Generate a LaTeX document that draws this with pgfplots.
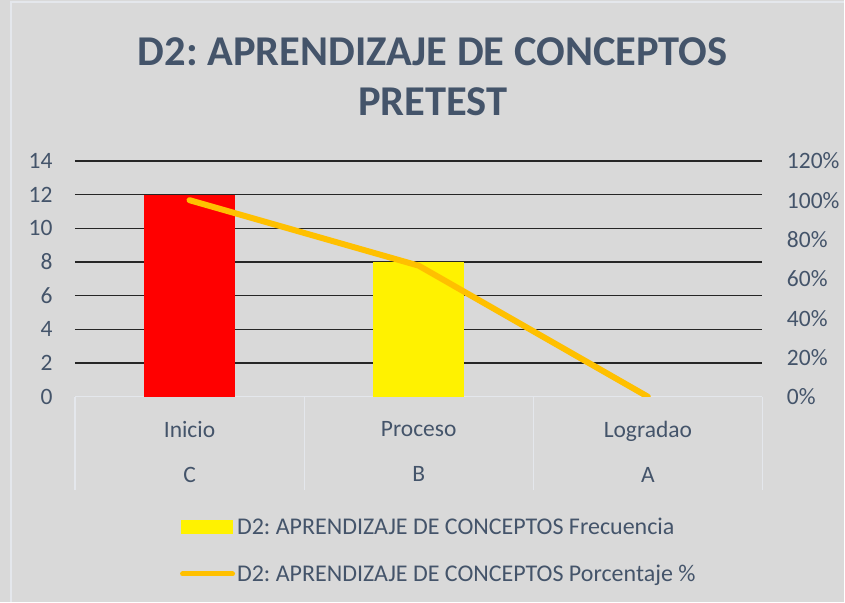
\documentclass[border=0pt]{standalone}
\usepackage{pgfplots}
\pgfplotsset{compat=1.18}
\usepackage{fontspec}
\setmainfont{Carlito}
\frenchspacing
\definecolor{txt}{HTML}{44546A}
\definecolor{bg}{HTML}{D9D9D9}
\definecolor{sep}{HTML}{E4E7EC}
\definecolor{lineor}{HTML}{FFC000}
\definecolor{grd}{HTML}{262626}
\begin{document}
\begin{tikzpicture}[x=1pt,y=1pt]
\fill[bg] (0,0) rectangle (845,602);
\draw[sep, line width=1.2pt] (11,0) -- (11,600) -- (845,600);
\node[txt, font=\fontsize{42.5}{50}\selectfont\bfseries] at (433,550) {D2: APRENDIZAJE DE CONCEPTOS};
\node[txt, font=\fontsize{42.5}{50}\selectfont\bfseries] at (433,500) {PRETEST};
\begin{axis}[
  at={(75pt,205pt)}, anchor=south west,
  scale only axis, width=688pt, height=236pt,
  xmin=-0.5, xmax=2.5, ymin=0, ymax=14,
  ytick={0,2,...,14},
  ymajorgrids, grid style={grd, line width=1.3pt},
  axis y line*=left, y axis line style={draw=none},
  axis x line*=bottom, x axis line style={sep, line width=1.2pt, -},
  xtick={-0.5,0.5,1.5,2.5}, xticklabels={},
  xtick style={sep, line width=1.2pt},
  major tick length=0pt,
  x tick style={/pgfplots/major tick length=93pt},
  tick align=outside,
  ytick style={draw=none},
  extra x ticks={0,1,2},
  extra x tick labels={{Inicio\\[17pt]C},{Proceso\\[17pt]B},{Logradao\\[17pt]A}},
  extra x tick style={major tick length=0pt, xtick style={draw=none}, grid=none,
     xticklabel style={align=center, yshift=-21pt}},
  xmajorgrids=false,
  yticklabel style={font=\fontsize{23.5}{28}\selectfont, txt, anchor=east, xshift=-19pt},
  xticklabel style={font=\fontsize{23.5}{28}\selectfont, txt, anchor=north},
  /pgf/number format/assume math mode=true,
  legend style={at={(0.1526,-0.505)}, anchor=north west, draw=none, fill=none,
     font=\fontsize{24}{28}\selectfont, text=txt, row sep=25pt, inner sep=0pt},
  legend cell align=left,
]
\addplot[ybar, bar width=91pt, bar shift=0pt, fill=red, draw=none, forget plot] coordinates {(0,12)};
\addplot[ybar, bar width=91pt, bar shift=0pt, fill=yellow, draw=none,
  legend image code/.code={\fill[yellow] (0pt,-7pt) rectangle (52pt,7pt);}] coordinates {(1,8)};
\addlegendentry{D2: APRENDIZAJE DE CONCEPTOS Frecuencia}
\addlegendimage{legend image code/.code={\draw[lineor, line width=5pt, line cap=round] (2pt,0pt) -- (52pt,0pt);}}
\addlegendentry{D2: APRENDIZAJE DE CONCEPTOS Porcentaje \%}
\end{axis}
\begin{axis}[
  at={(75pt,205pt)}, anchor=south west,
  scale only axis, width=688pt, height=236pt,
  xmin=-0.5, xmax=2.5, ymin=0, ymax=1.2,
  ytick={0,0.2,...,1.2},
  axis y line*=right, axis x line=none, y axis line style={draw=none},
  ytick style={draw=none}, major tick length=0pt,
  yticklabel={\pgfmathparse{round(\tick*100)}\pgfmathprintnumber[fixed,precision=0]{\pgfmathresult}\%},
  yticklabel style={font=\fontsize{23.5}{28}\selectfont, txt, anchor=west, xshift=21pt},
  /pgf/number format/assume math mode=true,
]
\addplot[lineor, line width=6pt, line cap=round, line join=round] coordinates {(0,1.0) (1,0.6667) (2,0)};
\end{axis}
\end{tikzpicture}
\end{document}
